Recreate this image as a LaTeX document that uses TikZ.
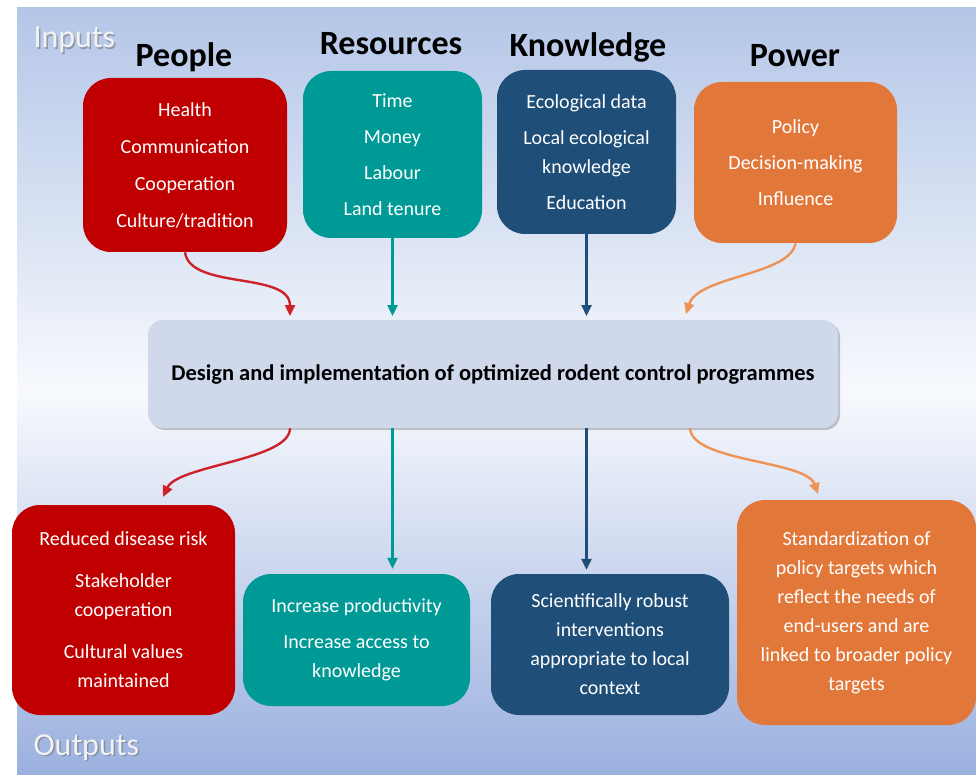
\documentclass[tikz,border=0pt]{standalone}
\usepackage{fontspec}
\setmainfont{Carlito}
\usetikzlibrary{arrows.meta,shadows}

\definecolor{pplred}{HTML}{C00000}
\definecolor{redarrow}{HTML}{CC2229}
\definecolor{resteal}{HTML}{009A96}
\definecolor{knowblue}{HTML}{1F4E79}
\definecolor{powerorange}{HTML}{E2773A}
\definecolor{orangearrow}{HTML}{EE9255}
\definecolor{designfill}{HTML}{D0D9EC}
\definecolor{bgtop}{HTML}{B4C6E7}
\definecolor{bgmid}{HTML}{F7F9FD}
\definecolor{bgbot}{HTML}{9AB0DE}
\definecolor{labelgrey}{HTML}{F2F2F2}

\tikzset{
  box/.style={rounded corners=28pt, text=white, align=center, inner sep=0pt,
    font=\fontsize{20}{29}\selectfont},
  head/.style={anchor=base, font=\bfseries\fontsize{34}{40}\selectfont},
  sidelabel/.style={anchor=base west, text=labelgrey, font=\fontsize{32}{38}\selectfont},
  sideshadow/.style={sidelabel, text=black!60, opacity=.5},
  link/.style={line width=2.4pt, -{Triangle[length=11pt,width=10pt]}},
}

\begin{document}
\begin{tikzpicture}[x=1pt, y=-1pt]
  \useasboundingbox (0,0) rectangle (976,775);
  % background
  \shade[top color=bgtop, bottom color=bgbot, middle color=bgmid] (17,8) rectangle (976,775);

  % side labels
  \node[sideshadow] at (31.5,49.5) {Inputs};
  \node[sidelabel] (inputs) at (30,48) {Inputs};
  \node[sideshadow] at (31.5,756.5) {Outputs};
  \node[sidelabel] (outputs) at (30,755) {Outputs};

  % input headings
  \node[head] (people-head) at (184,67) {People};
  \node[head] (resources-head) at (391,55) {Resources};
  \node[head] (knowledge-head) at (588,57) {Knowledge};
  \node[head] (power-head) at (795,67) {Power};

  % input boxes
  \node[box, fill=pplred, minimum width=204pt, minimum height=174pt] (people) at (185,165)
    {Health\\[8pt]Communication\\[8pt]Cooperation\\[8pt]Culture/tradition};
  \node[box, fill=resteal, minimum width=179pt, minimum height=167pt] (resources) at (392.5,154.5)
    {Time\\[7pt]Money\\[7pt]Labour\\[7pt]Land tenure};
  \node[box, fill=knowblue, minimum width=179pt, minimum height=164pt] (knowledge) at (586.5,152)
    {Ecological data\\[7pt]Local ecological\\knowledge\\[7pt]Education};
  \node[box, fill=powerorange, minimum width=203pt, minimum height=161pt] (power) at (795.5,162.5)
    {Policy\\[7pt]Decision-making\\[7pt]Influence};

  % central box
  \node[rounded corners=15pt, fill=designfill, minimum width=690pt, minimum height=108pt,
    drop shadow={opacity=.45, shadow xshift=2pt, shadow yshift=-2pt},
    font=\bfseries\fontsize{22.5}{26}\selectfont] (design) at (493,374)
    {Design and implementation of optimized rodent control programmes};

  % output boxes
  \node[box, fill=pplred, minimum width=223pt, minimum height=210pt] (outpeople) at (123.5,610)
    {Reduced disease risk\\[13pt]Stakeholder\\cooperation\\[13pt]Cultural values\\maintained};
  \node[box, fill=resteal, minimum width=227pt, minimum height=132pt] (outres) at (356.5,640)
    {Increase productivity\\[7pt]Increase access to\\knowledge};
  \node[box, fill=knowblue, minimum width=238pt, minimum height=141pt] (outknow) at (610,644.5)
    {Scientifically robust\\interventions\\appropriate to local\\context};
  \node[box, fill=powerorange, minimum width=239pt, minimum height=225pt] (outpower) at (856.5,612.5)
    {Standardization of\\policy targets which\\reflect the needs of\\end-users and are\\linked to broader policy\\targets};

  % arrow ends
  \coordinate (inpeople) at (290,316);
  \coordinate (inpower) at (686,314);
  \coordinate (outpeopletip) at (163,497);
  \coordinate (outpowertip) at (818,494);

  % arrows in
  \draw[link, redarrow] (people.south) .. controls +(5,38) and +(0,-45) .. (inpeople);
  \draw[link, resteal] (resources.south) -- (resources.south |- inpeople);
  \draw[link, knowblue] (knowledge.south) -- (knowledge.south |- inpeople);
  \draw[link, orangearrow] (power.south) .. controls +(-5,32) and +(12,-38) .. (inpower);

  % arrows out
  \draw[link, redarrow] (design.south -| inpeople) .. controls +(0,32) and +(15,-32) .. (outpeopletip);
  \draw[link, resteal, shorten >=5pt] (design.south -| resources.south) -- (outres.north -| resources.south);
  \draw[link, knowblue, shorten >=4pt] (design.south -| knowledge.south) -- (outknow.north -| knowledge.south);
  \draw[link, orangearrow] ([xshift=4pt]design.south -| inpower) .. controls +(2,34) and +(-12,-34) .. (outpowertip);
\end{tikzpicture}
\end{document}
